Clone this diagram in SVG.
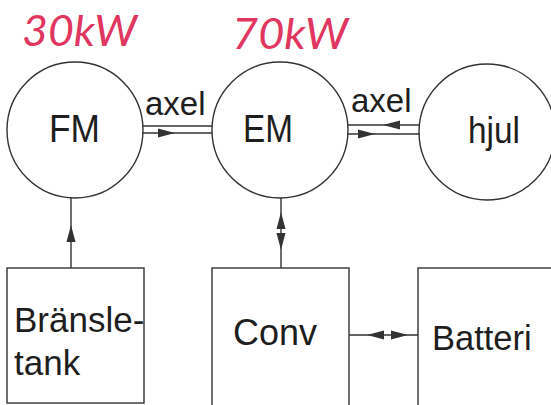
<svg xmlns="http://www.w3.org/2000/svg" xmlns:xlink="http://www.w3.org/1999/xlink" width="551" height="405" viewBox="0 0 551 405">
<style>
.shape{fill:none;stroke:#333;stroke-width:1.4}
.ln{fill:none;stroke:#333;stroke-width:1.4}
.lbl{font-family:"Liberation Sans",Arial,sans-serif;fill:#1e1e1e}
.hand{font-family:Lato,"DejaVu Sans",sans-serif;font-style:italic;font-weight:400;fill:#e0365f}
.ah{fill:#333;stroke:none}
</style>
<defs>
<path id="ah" class="ah" d="M0,0 L-17,-4.5 L-17,4.5 Z"/>
</defs>
<rect width="551" height="405" fill="#fff"/>
<text class="hand" x="22" y="46" font-size="42" textLength="115" lengthAdjust="spacingAndGlyphs">30kW</text>
<text class="hand" x="232" y="49" font-size="42" textLength="116" lengthAdjust="spacingAndGlyphs">70kW</text>
<g id="FM"><circle class="shape" cx="75" cy="130" r="68"/><text class="lbl" x="49" y="142" font-size="39" textLength="51" lengthAdjust="spacingAndGlyphs">FM</text></g>
<g id="EM"><circle class="shape" cx="280" cy="130" r="68"/><text class="lbl" x="243" y="142" font-size="39" textLength="50" lengthAdjust="spacingAndGlyphs">EM</text></g>
<g id="hjul"><circle class="shape" cx="487" cy="132" r="68"/><text class="lbl" x="468" y="143" font-size="37" textLength="52" lengthAdjust="spacingAndGlyphs">hjul</text></g>
<g id="tank"><rect class="shape" x="7" y="268" width="137" height="135"/><text class="lbl" x="14" y="332" font-size="35">Bränsle-</text><text class="lbl" x="14" y="375" font-size="35">tank</text></g>
<g id="conv"><rect class="shape" x="212" y="268" width="137" height="140"/><text class="lbl" x="233" y="345" font-size="36">Conv</text></g>
<g id="batteri"><rect class="shape" x="418" y="268" width="140" height="140"/><text class="lbl" x="432" y="350" font-size="34.5">Batteri</text></g>
<g id="connectors">
<text class="lbl" x="145" y="115" font-size="33">axel</text>
<text class="lbl" x="351" y="112" font-size="33">axel</text>
<line class="ln" x1="143" y1="126" x2="212" y2="126"/>
<line class="ln" x1="142" y1="133" x2="212" y2="133"/>
<use xlink:href="#ah" transform="translate(175,133)"/>
<line class="ln" x1="347" y1="125" x2="420" y2="125"/>
<line class="ln" x1="347" y1="134" x2="420" y2="134"/>
<use xlink:href="#ah" transform="translate(383,125) rotate(180)"/>
<use xlink:href="#ah" transform="translate(375,134)"/>
<line class="ln" x1="71" y1="197" x2="71" y2="268"/>
<use xlink:href="#ah" transform="translate(71,225) rotate(-90)"/>
<line class="ln" x1="281" y1="198" x2="281" y2="268"/>
<use xlink:href="#ah" transform="translate(281,212) rotate(-90)"/>
<use xlink:href="#ah" transform="translate(281,250) rotate(90)"/>
<line class="ln" x1="349" y1="335" x2="418" y2="335"/>
<use xlink:href="#ah" transform="translate(367,335) rotate(180)"/>
<use xlink:href="#ah" transform="translate(408,335)"/>
</g>
</svg>
